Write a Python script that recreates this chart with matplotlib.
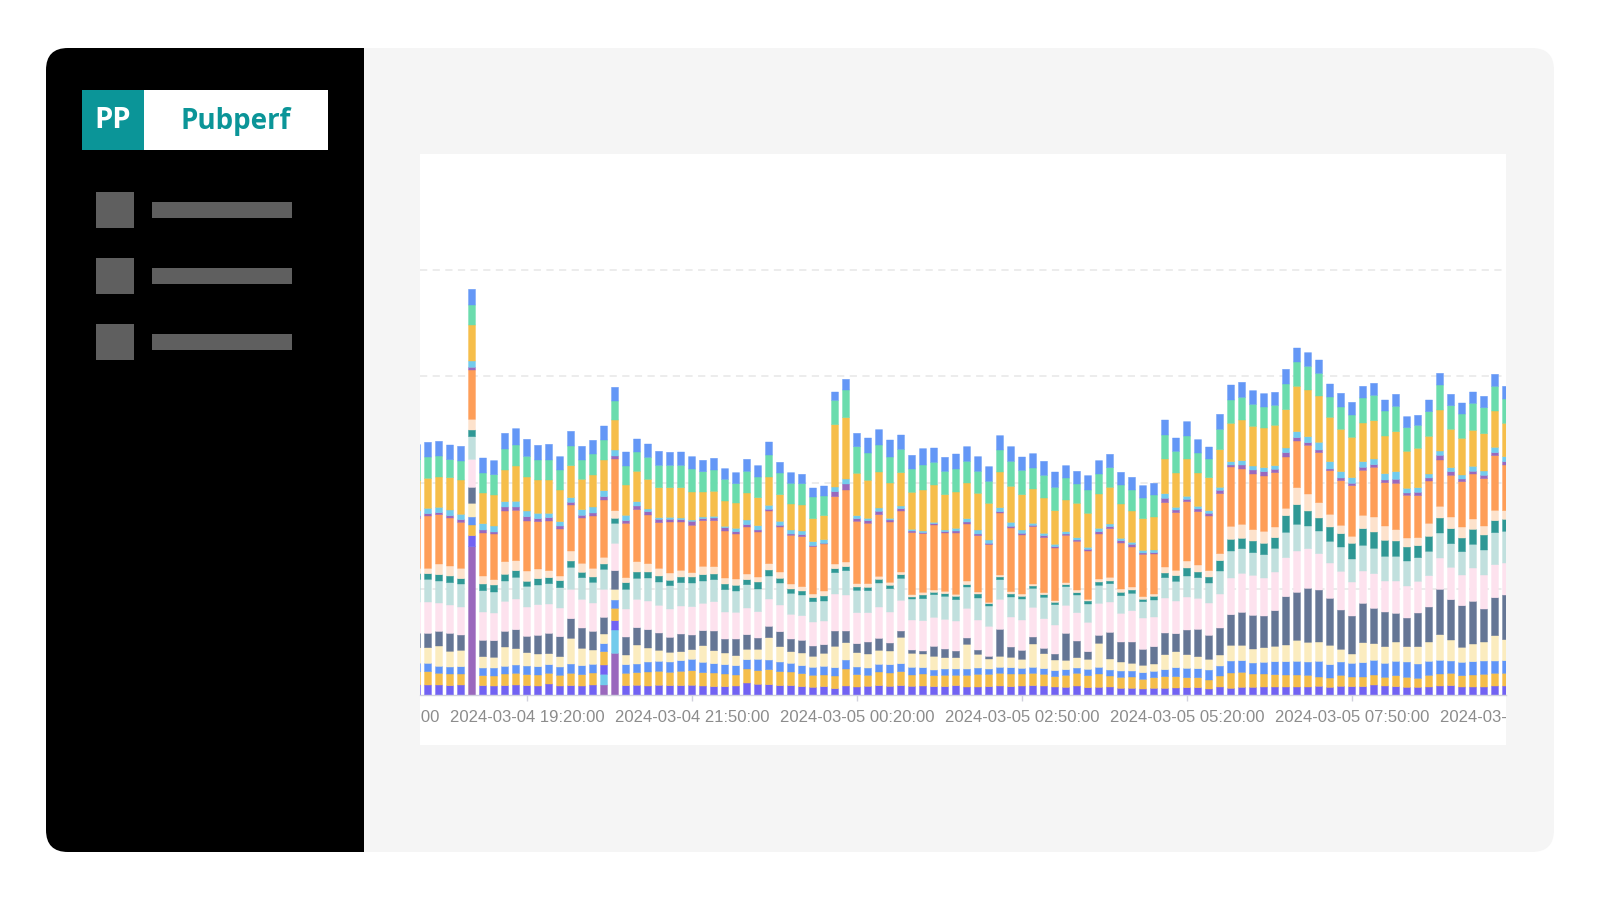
import numpy as np
import matplotlib
matplotlib.use('Agg')
import matplotlib.pyplot as plt
from matplotlib.patches import FancyBboxPatch, Rectangle

# stack heights per 10 minute bin, bottom series first
s0 = [0]*100
s0[5] = 445
s0[17] = 30
s0[18] = 125
s1 = [0]*100
s1[17] = 32
s1[18] = 70
s2 = [30,30,30,28,30,33,28,27,28,30,
      28,27,33,27,28,27,30,28,28,28,
      29,27,29,28,28,29,27,25,25,27,
      36,32,31,28,28,25,23,25,19,27,
      24,26,28,26,28,26,27,25,25,28,
      24,24,25,27,25,27,28,27,24,23,
      27,22,23,24,20,20,18,20,20,21,
      22,22,18,24,20,23,23,24,24,24,
      24,24,26,23,26,25,25,30,27,25,
      23,23,24,27,28,24,24,24,27,27]
s3 = [40,40,35,35,33,32,30,30,35,35,
      33,33,32,32,37,34,36,40,37,37,
      38,42,42,40,43,44,40,41,38,33,
      42,41,45,42,41,39,36,35,38,51,
      37,33,41,40,42,34,36,33,34,31,
      35,38,37,38,38,36,37,35,31,36,
      38,36,40,33,33,34,29,32,35,34,
      30,30,27,33,46,45,40,39,37,36,
      36,35,28,28,33,29,29,30,26,33,
      30,27,35,36,37,34,36,38,38,38]
s4 = [25,25,21,21,22,24,23,24,23,25,
      26,25,26,25,28,27,26,24,25,26,
      26,30,30,31,32,34,31,28,28,28,
      28,34,29,29,26,24,24,26,25,27,
      23,22,23,25,24,23,19,17,19,19,
      19,19,16,18,19,17,18,17,18,17,
      16,19,20,18,19,18,20,19,21,27,
      28,27,30,30,36,35,33,35,39,40,
      41,40,47,40,40,41,43,44,42,43,
      46,43,42,41,37,40,40,40,37,38]
s5 = [47,47,61,47,49,41,34,32,58,49,
      40,38,33,31,77,52,43,29,32,29,
      57,42,33,29,27,29,50,39,35,30,
      31,30,67,46,35,38,33,39,64,52,
      43,42,42,41,79,42,41,41,34,34,
      74,41,30,33,31,27,70,45,32,28,
      31,30,72,33,27,23,22,22,45,48,
      41,36,32,33,47,46,42,44,46,50,
      63,59,58,58,38,28,60,50,50,58,
      46,52,58,77,63,45,53,57,76,63]
s6 = [43,43,44,54,46,48,49,50,47,57,
      49,56,61,60,59,61,56,50,56,54,
      52,55,52,45,53,44,45,59,42,50,
      44,34,34,45,38,38,31,26,46,35,
      27,36,36,24,19,10,9,30,26,20,
      19,13,8,81,31,27,21,16,18,81,
      50,23,24,80,60,64,48,52,65,54,
      74,82,72,81,92,99,101,95,107,145,
      144,162,156,141,118,114,118,106,104,86,
      86,101,105,136,121,125,128,99,114,134]
s7 = [94,94,85,85,84,84,85,83,90,92,
      88,92,88,86,88,86,85,84,82,84,
      85,86,83,85,84,85,82,88,81,80,
      80,79,82,80,74,74,72,71,111,108,
      93,88,94,93,92,90,91,87,89,90,
      89,90,90,90,90,91,89,89,87,84,
      85,88,96,91,86,94,94,89,105,98,
      99,93,97,102,110,117,120,114,116,117,
      124,119,109,106,116,102,97,104,93,97,
      96,95,94,94,97,92,100,102,99,96]
s8 = [68,68,66,67,69,68,64,63,61,65,
      62,59,61,61,66,65,62,60,60,59,
      63,69,70,70,70,71,67,66,67,64,
      70,68,69,66,63,62,61,60,64,73,
      67,66,72,70,66,63,66,68,69,64,
      64,66,61,59,60,63,57,64,61,56,
      53,55,54,55,53,52,49,51,61,59,
      63,62,60,69,81,74,68,70,71,76,
      80,68,68,65,73,69,77,76,74,74,
      75,71,73,75,71,70,71,75,96,95]
s9 = [17,17,19,20,16,20,20,21,20,20,
      15,19,18,21,19,16,16,16,15,20,
      19,18,18,16,17,18,19,17,17,17,
      15,21,18,14,13,12,12,15,12,12,
      10,10,11,10,11,6,11,7,8,10,
      7,12,7,8,9,8,7,8,7,6,
      7,9,10,8,10,10,7,11,14,17,
      24,17,18,31,35,31,35,34,32,50,
      59,45,39,43,40,47,50,49,48,46,
      42,36,45,45,45,41,45,45,36,36]
s10 = [16,16,32,30,31,32,24,16,38,30,
       31,29,21,14,30,27,26,20,23,15,
       31,25,23,22,20,13,25,22,18,19,
       17,15,19,19,15,13,11,15,14,14,
       10,11,9,9,8,7,8,7,7,6,
       11,6,4,6,7,7,6,6,5,6,
       8,5,9,11,10,9,8,7,18,16,
       21,21,19,21,39,42,34,36,32,22,
       51,51,46,38,25,21,40,45,43,34,
       27,24,39,35,35,33,31,27,31,26]
s11 = [150,157,148,144,138,148,129,137,152,151,
       150,142,149,141,138,136,157,172,155,163,
       156,146,137,153,145,142,137,138,141,135,
       141,135,158,135,146,150,142,141,202,216,
       187,181,185,181,183,186,176,195,175,184,
       171,169,173,186,191,177,172,165,158,142,
       146,145,135,146,138,120,127,120,193,173,
       178,160,164,180,178,166,167,166,163,154,
       140,146,150,131,134,152,135,149,130,139,
       128,126,127,139,125,136,135,142,164,137]
s12 = [7,7,6,7,8,8,9,6,12,10,
       13,9,10,9,8,8,9,10,9,8,
       11,10,10,8,7,12,6,8,10,7,
       7,6,5,5,4,6,3,2,15,18,
       8,8,10,6,7,5,3,4,4,6,
       6,5,4,4,5,5,4,6,4,4,
       4,5,7,6,7,8,4,4,13,8,
       7,8,8,10,6,12,12,13,10,13,
       10,8,8,5,8,7,9,8,8,12,
       7,10,9,14,11,8,8,10,9,10]
s13 = [16,16,16,17,16,19,19,18,16,17,
       17,16,13,13,14,17,18,18,18,16,
       13,8,5,6,5,4,5,5,4,10,
       14,13,12,12,12,11,12,11,14,15,
       9,7,10,5,8,5,5,4,5,8,
       10,12,10,12,12,10,6,7,7,7,
       7,6,10,8,7,6,8,8,14,8,
       9,8,8,9,10,13,12,12,11,14,
       18,18,23,22,19,17,17,17,19,23,
       14,14,12,13,12,12,15,13,16,15]
s14 = [90,90,91,97,103,108,92,93,95,106,
       102,100,100,95,96,91,96,92,90,91,
       91,89,90,89,91,84,75,75,76,76,
       81,84,85,80,78,78,69,72,187,184,
       127,114,108,106,100,111,123,112,106,109,
       107,110,110,107,108,106,103,106,101,95,
       103,102,103,110,103,94,95,99,104,103,
       112,100,99,113,115,122,119,119,121,115,
       136,140,139,133,127,121,116,115,113,120,
       111,118,113,123,115,110,108,112,109,100]
s15 = [64,64,63,54,57,60,60,61,63,63,
       62,60,60,60,59,58,63,60,57,57,
       58,66,67,67,67,69,61,64,65,58,
       65,62,66,65,62,64,65,59,73,83,
       80,82,81,78,70,70,75,68,70,69,
       65,66,66,66,75,73,63,68,70,66,
       58,70,60,59,57,63,62,66,72,65,
       69,60,56,61,70,68,66,63,60,77,
       73,71,68,61,67,67,75,76,75,76,
       71,69,74,75,71,73,81,78,74,73]
s16 = [44,44,44,44,44,47,45,42,47,49,
       51,44,47,40,44,41,41,42,41,42,
       39,40,42,39,40,37,34,35,32,33,
       36,34,39,32,32,28,27,30,25,32,
       40,45,46,51,43,41,49,43,42,45,
       44,44,44,43,44,40,43,42,46,37,
       38,43,40,40,38,38,37,35,45,40,
       43,40,36,45,45,45,41,40,39,44,
       42,41,40,39,41,38,35,36,33,36,
       33,30,35,35,34,33,34,34,36,38]

series = [s0, s1, s2, s3, s4, s5, s6, s7, s8, s9, s10, s11, s12, s13, s14, s15, s16]
colors = ['#9a68bd', '#72cbec', '#7262f3', '#f5be4b', '#6095f7', '#fbecbf', '#657695',
          '#fde2ee', '#c1e0de', '#2f9895', '#fde2cc', '#fe9e58', '#9a68bd', '#72cbec',
          '#f6be4a', '#6bdcad', '#6497f6']

tick_pos = [10, 25, 40, 55, 70, 85]
tick_labels = ['2024-03-04 19:20:00', '2024-03-04 21:50:00', '2024-03-05 00:20:00',
               '2024-03-05 02:50:00', '2024-03-05 05:20:00', '2024-03-05 07:50:00']
clipped_pos = [-5, 100]
clipped_labels = ['2024-03-04 16:50:00', '2024-03-05 10:20:00']

W, H = 1600, 900
fig = plt.figure(figsize=(16, 9), dpi=100, facecolor='white')

# page furniture, drawn in pixel coordinates
bg = fig.add_axes([0, 0, 1, 1])
bg.set_xlim(0, W)
bg.set_ylim(H, 0)
bg.axis('off')

bg.add_patch(FancyBboxPatch((46+22, 48+22), 1508-44, 804-44, boxstyle='round,pad=22,rounding_size=22',
                            fc='#f5f5f5', ec='none'))
side = FancyBboxPatch((46+22, 48+22), 360, 804-44, boxstyle='round,pad=22,rounding_size=22',
                      fc='black', ec='none')
bg.add_patch(side)
side.set_clip_path(Rectangle((46, 48), 318, 804, transform=bg.transData))

bg.add_patch(Rectangle((82, 90), 246, 60, fc='white', ec='none'))
bg.add_patch(Rectangle((82, 90), 61.5, 60, fc='#0b9598', ec='none'))
bg.text(112.5, 120.5, 'PP', color='white', fontsize=21, family='Open Sans', weight='bold',
        ha='center', va='center')
bg.text(236, 122, 'Pubperf', color='#0b9598', fontsize=20, family='Open Sans', weight='bold',
        ha='center', va='center')

for top in [192, 258, 324]:
    bg.add_patch(Rectangle((96, top), 38, 36, fc='#5f5f5f', ec='none'))
    bg.add_patch(Rectangle((152, top+10), 140, 16, fc='#5f5f5f', ec='none'))

panel = Rectangle((420, 154), 1086, 591, fc='white', ec='none')
bg.add_patch(panel)

# chart, 11 px per bar, heights read at 3 units per px
left, right, top, base = 420, 1506, 154, 695
ax = fig.add_axes([left/W, 1-base/H, (right-left)/W, (base-top)/H])
ax.patch.set_alpha(0)
ax.set_xlim((left-417)/11, (right-417)/11)
ax.set_ylim(0, (base-top)*3)

x = np.arange(len(s2))
bottom = np.zeros(len(s2))
for vals, col in zip(series, colors):
    vals = np.array(vals)
    bars = ax.bar(x, vals, width=0.63, bottom=bottom, color=col, edgecolor=col, linewidth=0.3, zorder=3)
    for b in bars:
        b.set_snap(False)
    bottom += vals

ax.set_yticks([318.6, 637.2, 955.8, 1274.4])
ax.set_yticklabels([])
ax.tick_params(axis='y', length=0)
ax.grid(axis='y', color='#ebebeb', linestyle=(0, (4, 3)), linewidth=1.3, zorder=0)
for name in ['top', 'left', 'right']:
    ax.spines[name].set_visible(False)
ax.spines['bottom'].set_color('#d0d0dc')
ax.spines['bottom'].set_linewidth(1.0)
ax.spines['bottom'].set_zorder(4)

ax.set_xticks(tick_pos)
ax.set_xticklabels(tick_labels, family='Liberation Sans', fontsize=12, color='#8c8c8c')
ax.tick_params(axis='x', length=4, width=1, color='#d0d0dc', pad=7)

for pos, lab in zip(clipped_pos, clipped_labels):
    t = ax.annotate(lab, (pos, 0), xycoords=('data', 'axes fraction'), xytext=(0, -11),
                    textcoords='offset points', family='Liberation Sans', fontsize=12,
                    color='#8c8c8c', ha='center', va='top', annotation_clip=False)
    t.set_clip_path(Rectangle((420, 154), 1086, 591, transform=bg.transData))

fig.savefig('out.png', dpi=100)
